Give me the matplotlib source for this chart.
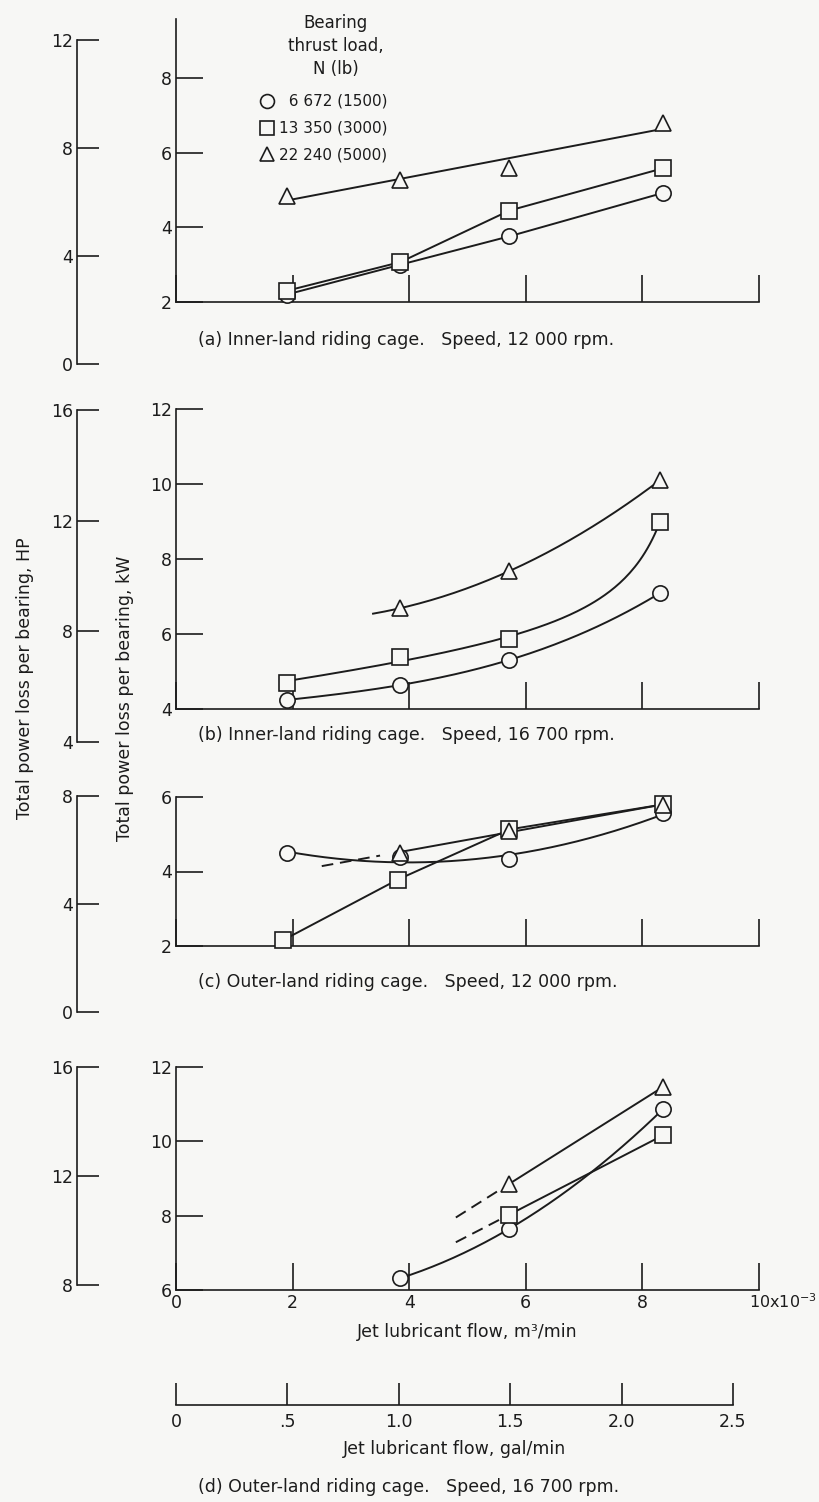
import numpy as np
import matplotlib
matplotlib.use("Agg")
import matplotlib.pyplot as plt
from matplotlib.lines import Line2D

plt.rcParams['font.family'] = ['DejaVu Sans']
plt.rcParams['mathtext.default'] = 'regular'

# ---------------- data (flow in 10^-3 m^3/min, power in kW) ----------------
series_labels = ["  6 672 (1500)", "13 350 (3000)", "22 240 (5000)"]
legend_title = "Bearing\nthrust load,\nN (lb)"

# (a) inner-land, 12 000 rpm
a_flow = [1.90, 3.85, 5.72, 8.35]
a_circle = [2.20, 3.00, 3.76, 4.92]
a_square = [2.30, 3.07, 4.45, 5.58]
a_triangle = [4.85, 5.26, 5.60, 6.80]

# (b) inner-land, 16 700 rpm
b_flow = [1.90, 3.85, 5.72, 8.30]
b_circle = [4.24, 4.64, 5.31, 7.09]
b_square = [4.69, 5.39, 5.87, 8.99]
b_tri_flow = [3.85, 5.72, 8.30]
b_triangle = [6.69, 7.68, 10.10]

# (c) outer-land, 12 000 rpm
c_flow = [1.90, 3.85, 5.72, 8.35]
c_circle = [4.49, 4.38, 4.33, 5.56]
c_sq_flow = [1.84, 3.80, 5.72, 8.35]
c_square = [2.16, 3.78, 5.13, 5.80]
c_tri_flow = [3.85, 5.72, 8.35]
c_triangle = [4.50, 5.10, 5.78]

# (d) outer-land, 16 700 rpm
d_circ_flow = [3.85, 5.72, 8.35]
d_circle = [6.32, 7.65, 10.86]
d_sq_flow = [5.72, 8.35]
d_square = [8.03, 10.16]
d_tri_flow = [5.72, 8.35]
d_triangle = [8.86, 11.46]

x_ticks = [0, 2, 4, 6, 8, 10]
gal_ticks = [0, 0.5, 1.0, 1.5, 2.0, 2.5]
gal_labels = ["0", ".5", "1.0", "1.5", "2.0", "2.5"]

captions = ["(a) Inner-land riding cage.   Speed, 12 000 rpm.",
            "(b) Inner-land riding cage.   Speed, 16 700 rpm.",
            "(c) Outer-land riding cage.   Speed, 12 000 rpm.",
            "(d) Outer-land riding cage.   Speed, 16 700 rpm."]

# ---------------- styling ----------------
W, H = 820, 1502
BG = '#f7f7f5'
INK = '#1c1c1c'
FS = 12.5
TFS = 12.5
LFS = 11
LW = 1.4
MS = 11
PX = 72 / 100.0  # points per pixel

fig = plt.figure(figsize=(W / 100, H / 100), dpi=100, facecolor=BG)


def rect(left, top, right, bottom):
    return [left / W, 1 - bottom / H, (right - left) / W, (bottom - top) / H]


def main_axes(top, bottom, ylim, yticks, xlabels=False):
    ax = fig.add_axes(rect(176, top, 759, bottom))
    ax.set_xlim(0, 10)
    ax.set_ylim(*ylim)
    for s in ('top', 'right'):
        ax.spines[s].set_visible(False)
    for s in ('left', 'bottom'):
        ax.spines[s].set_linewidth(1.2)
        ax.spines[s].set_color(INK)
    ax.set_xticks(x_ticks)
    ax.set_yticks(yticks)
    ax.tick_params(direction='in', length=27 * PX, width=1.2, color=INK,
                   labelsize=TFS, labelcolor=INK, pad=3)
    ax.tick_params(axis='x', labelbottom=xlabels)
    ax.patch.set_visible(False)
    return ax


def hp_axes(top, bottom, ylim, yticks):
    ax = fig.add_axes(rect(77, top, 107, bottom))
    ax.set_ylim(*ylim)
    ax.set_yticks(yticks)
    ax.set_xticks([])
    for s in ('top', 'right', 'bottom'):
        ax.spines[s].set_visible(False)
    ax.spines['left'].set_linewidth(1.2)
    ax.spines['left'].set_color(INK)
    ax.tick_params(direction='in', length=22 * PX, width=1.2, color=INK,
                   labelsize=TFS, labelcolor=INK, pad=3)
    ax.patch.set_visible(False)
    return ax


def marks(ax, x, y, m):
    ax.plot(x, y, ls='none', marker=m, ms=MS, mfc=BG, mec=INK, mew=1.2,
            zorder=5, clip_on=False)


def fair(ax, x, y, deg=None, x0=None, x1=None, dashed=False, pole=None):
    """Faired curve derived from the data points."""
    kw = dict(color=INK, lw=LW, zorder=3, clip_on=False)
    if dashed:
        kw['dashes'] = (6, 3.5)
    if deg is None and pole is None:
        ax.plot(x, y, **kw)
        return
    x = np.asarray(x, float)
    y = np.asarray(y, float)
    a = x.min() if x0 is None else x0
    b = x.max() if x1 is None else x1
    xs = np.linspace(a, b, 150)
    if pole is not None:
        A = np.column_stack([np.ones_like(x), x, 1.0 / (pole - x)])
        coef = np.linalg.lstsq(A, y, rcond=None)[0]
        ys = coef[0] + coef[1] * xs + coef[2] / (pole - xs)
    else:
        ys = np.polyval(np.polyfit(x, y, deg), xs)
    ax.plot(xs, ys, **kw)


# ---------- panel (a) ----------
ax = main_axes(19, 302, (2, 9.58), [2, 4, 6, 8])
hp_axes(40, 364, (0, 12), [0, 4, 8, 12])
fair(ax, a_flow, a_circle)
fair(ax, a_flow, a_square)
fair(ax, a_flow, a_triangle, deg=1)
marks(ax, a_flow, a_circle, 'o')
marks(ax, a_flow, a_square, 's')
marks(ax, a_flow, a_triangle, '^')

handles = [Line2D([], [], ls='none', marker=m, ms=MS - 1, mfc=BG, mec=INK, mew=1.2)
           for m in ('o', 's', '^')]
leg = fig.legend(handles, series_labels, loc='upper left',
                 bbox_to_anchor=(259 / W, 1 - 94 / H), frameon=False,
                 fontsize=LFS, handlelength=1.0, handletextpad=0.3,
                 labelspacing=0.78, borderpad=0, borderaxespad=0)
for t in leg.get_texts():
    t.set_color(INK)
fig.text(336 / W, 1 - 46 / H, legend_title, ha='center', va='center',
         fontsize=12, color=INK, linespacing=1.35)

# ---------- panel (b) ----------
ax = main_axes(409, 709, (4, 12), [4, 6, 8, 10, 12])
hp_axes(410, 742, (4, 16), [4, 8, 12, 16])
fair(ax, b_flow, b_circle, deg=3)
fair(ax, b_flow, b_square, pole=9.2)
fair(ax, b_tri_flow, b_triangle, deg=2, x0=3.38)
marks(ax, b_flow, b_circle, 'o')
marks(ax, b_flow, b_square, 's')
marks(ax, b_tri_flow, b_triangle, '^')

# ---------- panel (c) ----------
ax = main_axes(797, 946, (2, 6), [2, 4, 6])
hp_axes(796, 1012, (0, 8), [0, 4, 8])
fair(ax, c_flow, c_circle, deg=2)
fair(ax, c_sq_flow, c_square)
fair(ax, c_tri_flow, c_triangle, deg=1)
fair(ax, c_tri_flow, c_triangle, deg=1, x0=2.5, x1=3.5, dashed=True)
marks(ax, c_flow, c_circle, 'o')
marks(ax, c_sq_flow, c_square, 's')
marks(ax, c_tri_flow, c_triangle, '^')

# ---------- panel (d) ----------
ax = main_axes(1067, 1290, (6, 12), [6, 8, 10, 12], xlabels=True)
hp_axes(1067, 1285, (8, 16), [8, 12, 16])
ax.set_xticklabels(["0", "2", "4", "6", "8", ""])
ax.text(9.83, -0.012, r"10x10$^{-3}$", transform=ax.get_xaxis_transform(),
        ha='left', va='top', fontsize=TFS - 1, color=INK)
ax.set_xlabel("Jet lubricant flow, m³/min", fontsize=FS, color=INK, labelpad=8)
fair(ax, d_circ_flow, d_circle, deg=2)
fair(ax, d_sq_flow, d_square, deg=1)
fair(ax, d_sq_flow, d_square, deg=1, x0=4.8, x1=5.55, dashed=True)
fair(ax, d_tri_flow, d_triangle, deg=1)
fair(ax, d_tri_flow, d_triangle, deg=1, x0=4.8, x1=5.55, dashed=True)
marks(ax, d_circ_flow, d_circle, 'o')
marks(ax, d_sq_flow, d_square, 's')
marks(ax, d_tri_flow, d_triangle, '^')

# gal/min axis
g = fig.add_axes(rect(176, 1380, 733, 1405))
g.set_xlim(0, 2.5)
g.set_yticks([])
g.set_xticks(gal_ticks)
g.set_xticklabels(gal_labels)
for s in ('top', 'right', 'left'):
    g.spines[s].set_visible(False)
g.spines['bottom'].set_linewidth(1.2)
g.spines['bottom'].set_color(INK)
g.tick_params(direction='in', length=22 * PX, width=1.2, color=INK,
              labelsize=TFS, labelcolor=INK, pad=6)
g.set_xlabel("Jet lubricant flow, gal/min", fontsize=FS, color=INK, labelpad=6)
g.patch.set_visible(False)

# captions
for txt, y in zip(captions, [340, 735, 982, 1487]):
    fig.text(198 / W, 1 - y / H, txt, ha='left', va='center', fontsize=FS, color=INK)

# axis titles
fig.text(25 / W, 1 - 678 / H, "Total power loss per bearing, HP", rotation=90,
         ha='center', va='center', fontsize=FS, color=INK)
fig.text(125 / W, 1 - 698 / H, "Total power loss per bearing, kW", rotation=90,
         ha='center', va='center', fontsize=FS, color=INK)

fig.savefig("out.png", dpi=100, facecolor=BG)
